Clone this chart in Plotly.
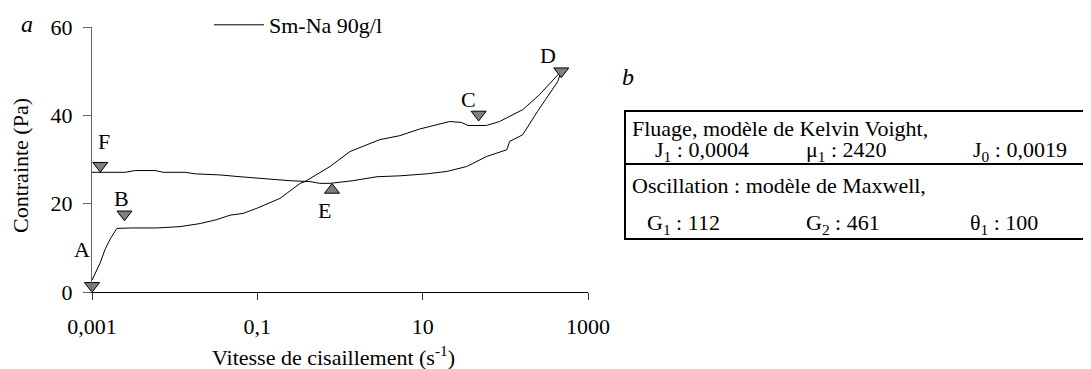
import math
import plotly.graph_objects as go

# ---------------- data ----------------
# ascending branch A -> B -> C -> D  (shear rate s^-1, stress Pa)
up_rate = [0.001, 0.00125, 0.00145, 0.00166, 0.002, 0.003, 0.0061, 0.0116, 0.0204,
           0.0324, 0.0468, 0.0676, 0.1, 0.188, 0.33, 0.377, 0.755, 1.32, 3.03, 5.3,
           9.2, 21.2, 29.4, 35.3, 58.9, 85, 163, 260, 475]
up_stress = [2.7, 6.5, 9.8, 12.0, 14.4, 14.5, 14.5, 14.8, 15.5,
             16.4, 17.4, 17.8, 19.0, 21.2, 24.6, 25.0, 28.4, 31.8, 34.5, 35.4,
             36.9, 38.6, 38.4, 37.7, 37.7, 38.6, 41.3, 44.7, 50.0]
# descending branch D -> E -> F
down_rate = [475, 429, 245, 162, 113, 104, 59.6, 34, 19.6, 11.2, 5.3, 2.8, 1.43,
             0.755, 0.57, 0.433, 0.248, 0.124, 0.0617, 0.0355, 0.0178, 0.0134,
             0.00727, 0.0058, 0.00333, 0.00252, 0.001]
down_stress = [50.0, 47.6, 40.9, 35.6, 34.1, 32.2, 30.7, 28.4, 27.3, 26.75, 26.3, 26.1, 25.2,
               24.6, 24.6, 25.0, 25.2, 25.6, 26.1, 26.5, 26.75, 27.1,
               27.1, 27.5, 27.5, 27.1, 27.1]

series_name = "Sm-Na 90g/l"

point_labels = ["A", "B", "C", "D", "E", "F"]
point_rate = [0.001, 0.00247, 47.6, 475, 0.80, 0.00126]
point_stress = [1.4, 17.6, 40.2, 50.0, 23.1, 28.6]
point_symbols = ["triangle-down", "triangle-down", "triangle-down",
                 "triangle-down", "triangle-up", "triangle-down"]

x_tick_vals = [0.001, 0.1, 10, 1000]
x_tick_text = ["0,001", "0,1", "10", "1000"]
y_tick_vals = [0, 20, 40, 60]

table_head_1 = "Fluage, modèle de Kelvin Voight,"
table_params_1 = ["J<sub>1</sub> : 0,0004", "μ<sub>1</sub> : 2420", "J<sub>0</sub> : 0,0019"]
table_head_2 = "Oscillation : modèle de Maxwell,"
table_params_2 = ["G<sub>1</sub> : 112", "G<sub>2</sub> : 461", "θ<sub>1</sub> : 100"]

# ---------------- layout helpers ----------------
OFF = 8                      # page body margin
W, H = 1091 - OFF, 369 - OFF
ML, MR, MT, MB = 84, 503, 19, 77
PW, PH = W - ML - MR, H - MT - MB
FONT = "Liberation Serif"
FS = 22


def px(rx):
    return (rx - OFF - ML) / PW


def py(ry):
    return (H - MB - (ry - OFF)) / PH


fig = go.Figure()

fig.add_trace(go.Scatter(
    x=up_rate + down_rate[1:], y=up_stress + down_stress[1:],
    mode="lines", name=series_name,
    line=dict(color="black", width=1),
    showlegend=True, cliponaxis=False,
))

fig.add_trace(go.Scatter(
    x=point_rate, y=point_stress, mode="markers",
    marker=dict(symbol=point_symbols, size=13, color="#7f7f7f",
                line=dict(color="black", width=1)),
    showlegend=False, cliponaxis=False, hoverinfo="skip",
))

label_offsets = {"A": (-10, 36), "B": (-3, 16), "C": (-10, 15),
                 "D": (-13, 16), "E": (-7, -21), "F": (4, 24)}
annotations = []
for lab, xr, yr in zip(point_labels, point_rate, point_stress):
    dx, dy = label_offsets[lab]
    annotations.append(dict(x=math.log10(xr), y=yr, xref="x", yref="y", text=lab,
                            showarrow=False, xanchor="center", yanchor="middle",
                            xshift=dx, yshift=dy,
                            font=dict(family=FONT, size=FS, color="black")))


def paper_text(rx, ry, text, anchor="center", size=FS, angle=0):
    return dict(x=px(rx), y=py(ry), xref="paper", yref="paper", text=text,
                showarrow=False, xanchor=anchor, yanchor="middle", textangle=angle,
                font=dict(family=FONT, size=size, color="black"))


# axis titles
annotations.append(paper_text(333, 356, "Vitesse de cisaillement (s<sup>-1</sup>)"))
annotations.append(paper_text(20, 166, "Contrainte (Pa)", angle=-90))
# panel letters
annotations.append(paper_text(27, 24, "<i>a</i>", size=FS + 2))
annotations.append(paper_text(628, 77, "<i>b</i>", size=FS + 2))

# table text
annotations.append(paper_text(630, 128, table_head_1, anchor="left"))
annotations.append(paper_text(630, 185, table_head_2, anchor="left"))
for txt, xp in zip(table_params_1, [653, 804, 971]):
    annotations.append(paper_text(xp, 151, txt, anchor="left"))
for txt, xp in zip(table_params_2, [645, 804, 968]):
    annotations.append(paper_text(xp, 224, txt, anchor="left"))

shapes = [
    dict(type="rect", xref="paper", yref="paper", x0=px(625), x1=px(1089),
         y0=py(239), y1=py(111), line=dict(color="black", width=2)),
    dict(type="line", xref="paper", yref="paper", x0=px(625), x1=px(1089),
         y0=py(164), y1=py(164), line=dict(color="black", width=2)),
]

fig.update_layout(
    width=W, height=H,
    margin=dict(l=ML, r=MR, t=MT, b=MB, autoexpand=False),
    paper_bgcolor="white", plot_bgcolor="white",
    font=dict(family=FONT, size=FS, color="black"),
    annotations=annotations, shapes=shapes,
    legend=dict(xref="paper", yref="paper", x=px(209), y=py(4),
                xanchor="left", yanchor="top", bgcolor="rgba(0,0,0,0)",
                itemwidth=50, font=dict(family=FONT, size=FS, color="black")),
)
fig.update_xaxes(type="log", range=[-3, 3], tickvals=x_tick_vals, ticktext=x_tick_text,
                 showgrid=False, zeroline=False, showline=True, linecolor="black", linewidth=1,
                 ticks="outside", ticklen=7, tickcolor="#333", ticklabelstandoff=8,
                 tickfont=dict(family=FONT, size=FS, color="black"))
fig.update_yaxes(range=[0, 60], tickvals=y_tick_vals, showgrid=False, zeroline=False,
                 showline=True, linecolor="#666", linewidth=1,
                 ticks="outside", ticklen=8, tickcolor="#666", ticklabelstandoff=6,
                 tickfont=dict(family=FONT, size=FS, color="black"))

fig.write_html("out.html")
